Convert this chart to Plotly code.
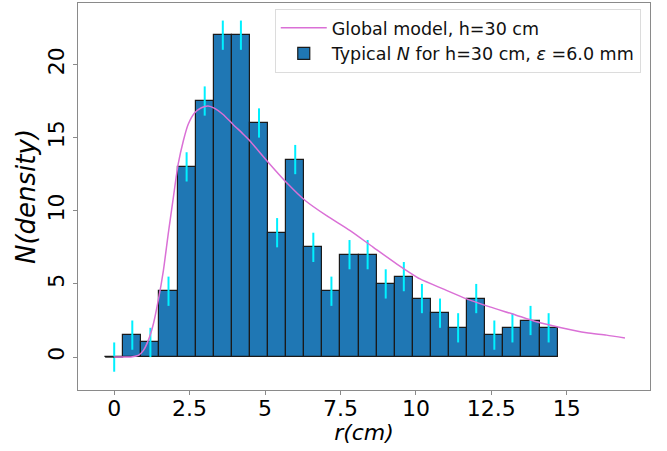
import plotly.graph_objects as go

# ---- data ----
bin_centers = [0.0, 0.6, 1.2, 1.8, 2.4, 3.0, 3.6, 4.2, 4.8, 5.4, 6.0, 6.6, 7.2,
               7.8, 8.4, 9.0, 9.6, 10.2, 10.8, 11.4, 12.0, 12.6, 13.2, 13.8, 14.4]
bin_width = 0.6
counts = [0.0, 1.5, 1.0, 4.5, 13.0, 17.5, 22.0, 22.0, 16.0, 8.5, 13.5, 7.5, 4.5,
          7.0, 7.0, 5.0, 5.5, 4.0, 3.0, 2.0, 4.0, 1.5, 2.0, 2.5, 2.0]
errors = [1.0] * len(counts)

model_r = [0.0, 0.3, 0.6, 0.8, 0.97, 1.13, 1.3, 1.46, 1.63, 1.79, 1.96, 2.12,
           2.29, 2.45, 2.67, 2.89, 3.11, 3.33, 3.6, 3.94, 4.28, 4.5, 5.11, 5.71,
           6.33, 7.04, 7.82, 8.59, 9.37, 10.14, 10.9, 11.68, 12.45, 13.23, 14.0,
           14.78, 15.66, 16.32, 16.93]
model_n = [0.0, 0.0, 0.03, 0.12, 0.46, 1.14, 2.28, 3.87, 5.91, 8.41, 10.9, 13.18,
           14.77, 15.9, 16.7, 17.04, 17.16, 17.0, 16.6, 15.9, 15.23, 14.77, 13.3,
           11.93, 10.7, 9.66, 8.64, 7.5, 6.36, 5.34, 4.66, 3.98, 3.43, 2.93, 2.41,
           2.02, 1.66, 1.5, 1.3]

x_ticks = [0, 2.5, 5, 7.5, 10, 12.5, 15]
x_tick_labels = ["0", "2.5", "5", "7.5", "10", "12.5", "15"]
y_ticks = [0, 5, 10, 15, 20]
y_tick_labels = ["0", "5", "10", "15", "20"]

FONT = "DejaVu Sans"
AXIS_GREY = "#8a8a8a"

fig = go.Figure()

fig.add_trace(go.Bar(
    x=bin_centers, y=counts, width=bin_width,
    marker=dict(color="#1f77b4", line=dict(color="#1a1a1a", width=1.2)),
    error_y=dict(type="data", array=errors, color="#00f0ff", thickness=2, width=0),
    name="Typical <i>N</i> for h=30 cm, <i>ε</i> =6.0 mm",
    legendrank=2,
))

# outline of empty bins (drawn by matplotlib as a flat edge)
for c, v in zip(bin_centers, counts):
    if v == 0:
        fig.add_trace(go.Scatter(
            x=[c - bin_width / 2, c + bin_width / 2], y=[v, v], mode="lines",
            line=dict(color="#1a1a1a", width=1.2), showlegend=False, hoverinfo="skip"))

fig.add_trace(go.Scatter(
    x=model_r, y=model_n, mode="lines",
    line=dict(color="#da70d6", width=1.5, shape="spline", smoothing=0.6),
    name="Global model, h=30 cm",
    legendrank=1,
))

fig.update_layout(
    width=667, height=451,
    margin=dict(l=78, r=17, t=3, b=61),
    plot_bgcolor="white", paper_bgcolor="white",
    font=dict(family=FONT, size=22, color="black"),
    showlegend=True,
    bargap=0,
    legend=dict(
        x=0.344, y=0.985, xanchor="left", yanchor="top",
        bgcolor="white", bordercolor="#dcdcdc", borderwidth=1,
        itemwidth=46,
        entrywidth=300, entrywidthmode="pixels",
        font=dict(family=FONT, size=17.5, color="#111"),
    ),
)

fig.update_xaxes(
    range=[-1.2, 17.76],
    tickvals=x_ticks, ticktext=x_tick_labels,
    showgrid=False, zeroline=False,
    showline=True, linecolor=AXIS_GREY, linewidth=1.2, mirror=True,
    ticks="outside", ticklen=4, tickcolor=AXIS_GREY,
    ticklabelstandoff=-6,
    tickfont=dict(family=FONT, size=22),
    title=dict(text="<i>r(cm)</i>", font=dict(family=FONT, size=22), standoff=2),
    automargin=False,
)
fig.update_yaxes(
    range=[-2.25, 24.2],
    tickvals=y_ticks, ticktext=y_tick_labels,
    tickangle=-90,
    showgrid=False, zeroline=False,
    showline=True, linecolor=AXIS_GREY, linewidth=1.2, mirror=True,
    ticks="outside", ticklen=4, tickcolor=AXIS_GREY,
    tickfont=dict(family=FONT, size=22),
    title=dict(text="<i>N(density)</i>", font=dict(family=FONT, size=26), standoff=0),
    automargin=False,
)

fig.write_html("out.html", config={"displayModeBar": False},
               post_script="document.body.style.margin='0px';")
